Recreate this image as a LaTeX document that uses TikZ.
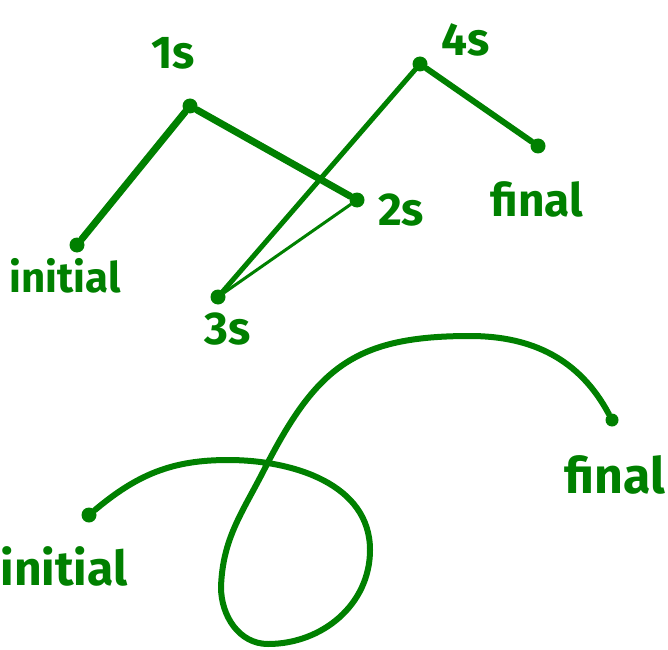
\documentclass[tikz,border=0pt]{standalone}
\usepackage{fontspec}
\setmainfont{Fira Sans}
\usetikzlibrary{positioning}
\definecolor{inkGreen}{RGB}{0,128,0}

\begin{document}
\begin{tikzpicture}[
    x=1pt, y=1pt,
    % Dot at the end of a path piece
    dot/.style={
        circle,
        fill=inkGreen,
        inner sep=0pt,
        minimum size=15pt
    },
    % Handwritten-looking label
    lbl/.style={
        text=inkGreen,
        inner sep=0pt,
        font=\fontsize{#1}{#1}\selectfont\bfseries
    },
    lbl/.default=42,
    % Pen stroke
    pen/.style={
        draw=inkGreen,
        line width=#1,
        line cap=round
    },
    pen/.default=6pt
]
    \useasboundingbox (0,0) rectangle (668,649);

    % Top: discrete path through time steps
    \node (init) [dot] at (77,404) {};
    \node (one) [dot] at (190,543) {};
    \node (two) [dot] at (357,449) {};
    \node (three) [dot] at (218,352) {};
    \node (four) [dot] at (420,585) {};
    \node (fin) [dot] at (538,503) {};

    \node (initLbl) [lbl] at (65,373) {initial};
    \node (oneLbl) [lbl=46] at (173,596) {1s};
    \node (twoLbl) [lbl=46] at (401,439) {2s};
    \node (threeLbl) [lbl=46] at (228,320) {3s};
    \node (fourLbl) [lbl=46] at (466,609) {4s};
    \node (finLbl) [lbl=46] at (537,450) {final};

    \draw [pen=7pt] (one) -- (init);
    \draw [pen=7pt] (one) -- (two);
    \draw [pen=3pt] (two) -- (three);
    \draw [pen=5pt] (three) -- (four);
    \draw [pen=6pt] (four) -- (fin);

    % Bottom: continuous path
    \node (init2) [dot] at (89,134) {};
    \node (fin2) [dot, minimum size=13pt] at (612,229) {};
    \node (init2Lbl) [lbl=48] at (64,83) {initial};
    \node (fin2Lbl) [lbl=50] at (615,174) {final};

    \coordinate (peak) at (228,189);
    \coordinate (right) at (370,99);
    \coordinate (bottom) at (268,5);
    \coordinate (left) at (221,62);
    \coordinate (cross) at (264,179);
    \coordinate (top) at (470,313);

    \draw [pen] (init2) to[out=40, in=180] (peak)
        to[out=0, in=90] (right)
        to[out=-90, in=0] (bottom)
        to[out=180, in=-90] (left)
        to[out=88, in=243] (cross)
        to[out=63, in=180, looseness=1.2] (top)
        to[out=0, in=118] (fin2);

\end{tikzpicture}
\end{document}
